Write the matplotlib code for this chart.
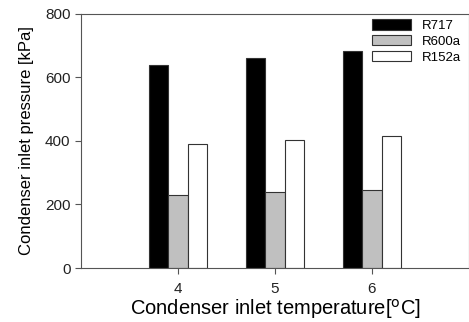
import matplotlib.pyplot as plt
import numpy as np

plt.rcParams['font.family'] = ['Liberation Sans', 'DejaVu Sans']

temps = [4, 5, 6]
r717 = [638, 659, 682]
r600a = [231, 238, 245]
r152a = [389, 402, 415]

fig = plt.figure(figsize=(4.69, 3.22), dpi=100)
ax = fig.add_axes([0.1727, 0.1677, 0.8273, 0.7903])

x = np.array(temps, dtype=float)
w = 0.2
ax.bar(x - w, r717, w, color='black', edgecolor='#333333', linewidth=0.8, label='R717')
ax.bar(x, r600a, w, color='#c0c0c0', edgecolor='#333333', linewidth=0.8, label='R600a')
ax.bar(x + w, r152a, w, color='white', edgecolor='#333333', linewidth=0.8, label='R152a')

ax.set_xlim(3, 7)
ax.set_ylim(0, 800)
ax.set_xticks(temps)
ax.set_yticks([0, 200, 400, 600, 800])
ax.tick_params(labelsize=11, length=4, color='#555555', width=0.8, labelcolor='#222222')
ax.tick_params(axis='x', pad=6)
for s in ax.spines.values():
    s.set_color('#555555')
    s.set_linewidth(0.8)

ax.set_xlabel('Condenser inlet temperature[$^{\\mathrm{o}}$C]', fontsize=14.5, labelpad=1)
ax.set_ylabel('Condenser inlet pressure [kPa]', fontsize=12, labelpad=8)

ax.legend(loc='upper right', frameon=False, fontsize=9.5, handlelength=3.0,
          handleheight=0.8, labelspacing=0.25, borderaxespad=0.05,
          bbox_to_anchor=(0.995, 1.0))

fig.savefig('out.png', dpi=100)
